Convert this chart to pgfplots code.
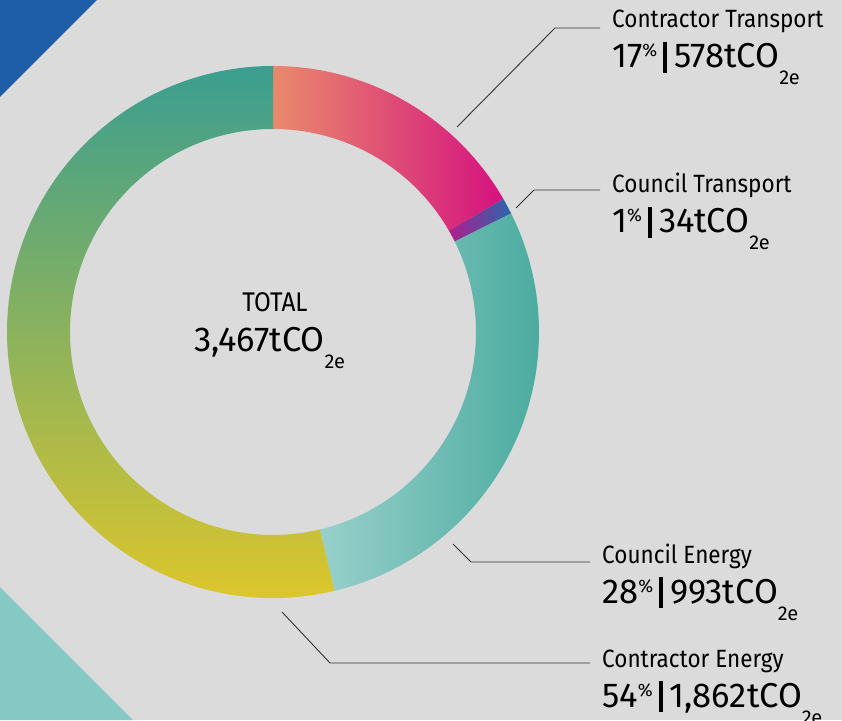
\documentclass[border=0pt]{standalone}
\usepackage{pgfplots}
\pgfplotsset{compat=1.18}
\usepackage{pgfplotstable}
\usepackage{fontspec}
\setmainfont{Fira Sans}
\newfontfamily\titlefont{Fira Sans}[FakeStretch=0.9]

\definecolor{bg}{HTML}{DBDBDB}
\definecolor{triblue}{HTML}{1E5DA8}
\definecolor{triteal}{HTML}{86C8C3}
\definecolor{ctA}{HTML}{E98A6C}
\definecolor{ctM}{HTML}{E25579}
\definecolor{ctB}{HTML}{D5127F}
\definecolor{couA}{HTML}{B01E8C}
\definecolor{couB}{HTML}{2A66AE}
\definecolor{ceA}{HTML}{46A99C}
\definecolor{ceB}{HTML}{98D0CB}
\definecolor{coA}{HTML}{3A9E90}
\definecolor{coM}{HTML}{86B562}
\definecolor{coB}{HTML}{E4C826}
\definecolor{leader}{HTML}{333333}

\pgfplotstableread{
seg value
ContractorTransport 578
CouncilTransport 34
CouncilEnergy 993
ContractorEnergy 1862
}\emissions

\pgfplotstablegetelem{0}{value}\of\emissions \let\vA\pgfplotsretval
\pgfplotstablegetelem{1}{value}\of\emissions \let\vB\pgfplotsretval
\pgfplotstablegetelem{2}{value}\of\emissions \let\vC\pgfplotsretval
\pgfplotstablegetelem{3}{value}\of\emissions \let\vD\pgfplotsretval
\pgfmathsetmacro{\total}{\vA+\vB+\vC+\vD}
\pgfmathsetmacro{\aA}{90}
\pgfmathsetmacro{\aB}{\aA-360*(\vA/\total)}
\pgfmathsetmacro{\aC}{\aB-360*(\vB/\total)}
\pgfmathsetmacro{\aD}{\aC-360*(\vC/\total)}
\pgfmathsetmacro{\aE}{-270}

\newcommand{\ringseg}[3]{%
  \path[#1] ([shift={(#2:266pt)}]axis cs:273,388) arc[start angle=#2, end angle=#3, radius=266pt]
    -- ([shift={(#3:203pt)}]axis cs:273,388) arc[start angle=#3, end angle=#2, radius=203pt] -- cycle;}

\newcommand{\bigline}[2]{{\fontsize{34.5}{34.5}\selectfont #1\raisebox{11pt}{\fontsize{18}{18}\selectfont\%}\hspace{6pt}\rule[-5pt]{4pt}{31pt}\hspace{7pt}#2tCO\raisebox{-17pt}{\fontsize{20}{20}\selectfont 2e}}}

\begin{document}
\begin{tikzpicture}
\begin{axis}[
  width=842pt, height=720pt, scale only axis,
  xmin=0, xmax=842, ymin=0, ymax=720,
  hide axis, clip=true]
  % background
  \fill[bg] (axis cs:0,0) rectangle (axis cs:842,720);
  \fill[triblue] (axis cs:0,720) -- (axis cs:97,720) -- (axis cs:0,623) -- cycle;
  \fill[triteal] (axis cs:0,133) -- (axis cs:133,0) -- (axis cs:0,0) -- cycle;
  % donut
  \ringseg{left color=ctA, middle color=ctM, right color=ctB}{\aA}{\aB}
  \ringseg{left color=couA, right color=couB}{\aB}{\aC}
  \ringseg{left color=ceB, middle color=ceA, right color=ceA}{\aC}{\aD}
  \ringseg{top color=coA, middle color=coM, bottom color=coB}{\aD}{\aE}
  % leaders
  \draw[leader, line width=0.9pt] (axis cs:457,593) -- (axis cs:555,692) -- (axis cs:600,692);
  \draw[leader, line width=0.9pt] (axis cs:516,512) -- (axis cs:534,530) -- (axis cs:600,530);
  \draw[leader, line width=0.9pt] (axis cs:453,176) -- (axis cs:471,158) -- (axis cs:590,158);
  \draw[leader, line width=0.9pt] (axis cs:282,108) -- (axis cs:330,57) -- (axis cs:590,57);
  % labels
  \node[anchor=base west, inner sep=0pt, font=\titlefont\fontsize{25}{25}\selectfont] at (axis cs:612,692) {Contractor Transport};
  \node[anchor=base west, inner sep=0pt] at (axis cs:612,652) {\bigline{17}{578}};
  \node[anchor=base west, inner sep=0pt, font=\titlefont\fontsize{25}{25}\selectfont] at (axis cs:612,527) {Council Transport};
  \node[anchor=base west, inner sep=0pt] at (axis cs:612,487) {\bigline{1}{34}};
  \node[anchor=base west, inner sep=0pt, font=\titlefont\fontsize{25}{25}\selectfont] at (axis cs:602,157) {Council Energy};
  \node[anchor=base west, inner sep=0pt] at (axis cs:602,117) {\bigline{28}{993}};
  \node[anchor=base west, inner sep=0pt, font=\titlefont\fontsize{25}{25}\selectfont] at (axis cs:602,53) {Contractor Energy};
  \node[anchor=base west, inner sep=0pt] at (axis cs:602,13) {\bigline{54}{1,862}};
  % total
  \node[anchor=base, inner sep=0pt, font=\titlefont\fontsize{27}{27}\selectfont] at (axis cs:275,408) {TOTAL};
  \node[anchor=base west, inner sep=0pt] at (axis cs:194,368) {{\fontsize{34.5}{34.5}\selectfont 3,467tCO\raisebox{-17pt}{\fontsize{20}{20}\selectfont 2e}}};
\end{axis}
\pgfresetboundingbox
\path (0,0) rectangle (842pt,720pt);
\end{tikzpicture}
\end{document}
